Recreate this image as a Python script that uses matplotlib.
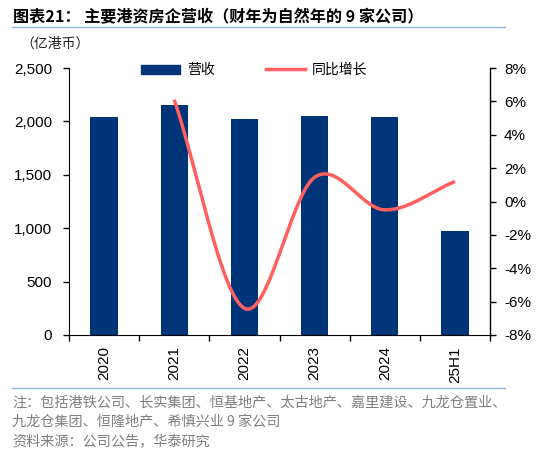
import matplotlib
matplotlib.use("Agg")
import matplotlib.pyplot as plt
import numpy as np
from matplotlib.lines import Line2D
from matplotlib.patches import Patch

categories = ["2020", "2021", "2022", "2023", "2024", "25H1"]
revenue = [2040, 2155, 2020, 2050, 2040, 975]
growth_cats = ["2021", "2022", "2023", "2024", "25H1"]
growth = [6.1, -6.4, 1.45, -0.5, 1.2]

title = "图表21： 主要港资房企营收（财年为自然年的 9 家公司）"
unit = "（亿港币）"
note1 = "注：包括港铁公司、长实集团、恒基地产、太古地产、嘉里建设、九龙仓置业、"
note2 = "九龙仓集团、恒隆地产、希慎兴业 9 家公司"
source = "资料来源：公司公告，华泰研究"

CJK = ["Noto Sans CJK SC", "DejaVu Sans"]
NUM = ["Liberation Sans", "DejaVu Sans"]
BAR = "#003478"
LINE = "#FF5F5F"

def catmull_rom(x, y, n=40):
    x = np.asarray(x, float); y = np.asarray(y, float)
    px = np.concatenate([[2*x[0]-x[1]], x, [2*x[-1]-x[-2]]])
    py = np.concatenate([[2*y[0]-y[1]], y, [2*y[-1]-y[-2]]])
    xs, ys = [], []
    t = np.linspace(0, 1, n)
    for i in range(1, len(px)-2):
        p0, p1, p2, p3 = [np.array([px[j], py[j]]) for j in (i-1, i, i+1, i+2)]
        c1 = p1 + (p2 - p0) / 6
        c2 = p2 - (p3 - p1) / 6
        pts = ((1-t)**3)[:, None]*p1 + (3*(1-t)**2*t)[:, None]*c1 + (3*(1-t)*t**2)[:, None]*c2 + (t**3)[:, None]*p2
        xs.append(pts[:, 0]); ys.append(pts[:, 1])
    return np.concatenate(xs), np.concatenate(ys)

fig = plt.figure(figsize=(5.5, 4.58), dpi=100)
ax = fig.add_axes([69/550, 1-335/458, (490-69)/550, (335-68)/458])
x = np.arange(len(categories))
ax.bar(x, revenue, width=0.39, color=BAR, zorder=2)
ax.set_xlim(-0.5, len(categories)-0.5)
ax.set_ylim(0, 2500)
ax.set_yticks(np.arange(0, 2501, 500))
ax.set_yticklabels([f"{v:,}" for v in range(0, 2501, 500)], fontfamily=NUM, fontsize=11)
ax.set_xticks(x)
ax.set_xticklabels(categories, rotation=90, fontfamily=NUM, fontsize=11)
ax.set_xticks(np.arange(-0.5, len(categories), 1), minor=True)
ax.tick_params(axis="x", which="major", length=0, pad=8)
ax.tick_params(axis="x", which="minor", length=4, width=1, direction="out")
ax.tick_params(axis="y", length=4, width=1, direction="out", pad=8)
ax.spines["top"].set_visible(False)
ax.spines["right"].set_visible(False)

ax2 = ax.twinx()
gx = [categories.index(c) for c in growth_cats]
sx, sy = catmull_rom(gx, growth)
ax2.plot(sx, sy, color=LINE, lw=2.5, solid_capstyle="butt", zorder=3)
ax2.set_ylim(-8, 8)
ax2.set_yticks(np.arange(-8, 9, 2))
ax2.set_yticklabels([f"{v}%" for v in range(-8, 9, 2)], fontfamily=NUM, fontsize=11)
ax2.tick_params(axis="y", length=4, width=1, direction="out", pad=6)
for s in ["top", "left", "bottom"]:
    ax2.spines[s].set_visible(False)
ax2.spines["right"].set_linewidth(1)

handles = [Patch(color=BAR), Line2D([0], [0], color=LINE, lw=2.5)]
leg = ax.legend(handles, ["营收", "同比增长"], loc="upper center", bbox_to_anchor=(0.44, 1.065),
                ncol=2, frameon=False, prop={"family": CJK, "size": 10},
                handlelength=2.8, handleheight=0.6, columnspacing=3.7, handletextpad=0.5)
leg.set_zorder(5)

fig.text(13/550, 1-17/458, title, fontfamily=CJK, fontsize=11.6, fontweight="bold", va="center", ha="left")
fig.add_artist(Line2D([12/550, 505/550], [1-27/458, 1-27/458], color="#8EB4E3", lw=1))
fig.text(20/550, 1-44/458, unit, fontfamily=CJK, fontsize=10, va="center", ha="left", color="#222222")
fig.add_artist(Line2D([12/550, 505/550], [1-388/458, 1-388/458], color="#8EB4E3", lw=1))
fig.text(12/550, 1-403/458, note1, fontfamily=CJK, fontsize=10.2, va="center", ha="left", color="#7F7F7F")
fig.text(12/550, 1-422/458, note2, fontfamily=CJK, fontsize=10.2, va="center", ha="left", color="#7F7F7F")
fig.text(12/550, 1-442/458, source, fontfamily=CJK, fontsize=10.2, va="center", ha="left", color="#7F7F7F")

fig.savefig("out.png", dpi=100)
